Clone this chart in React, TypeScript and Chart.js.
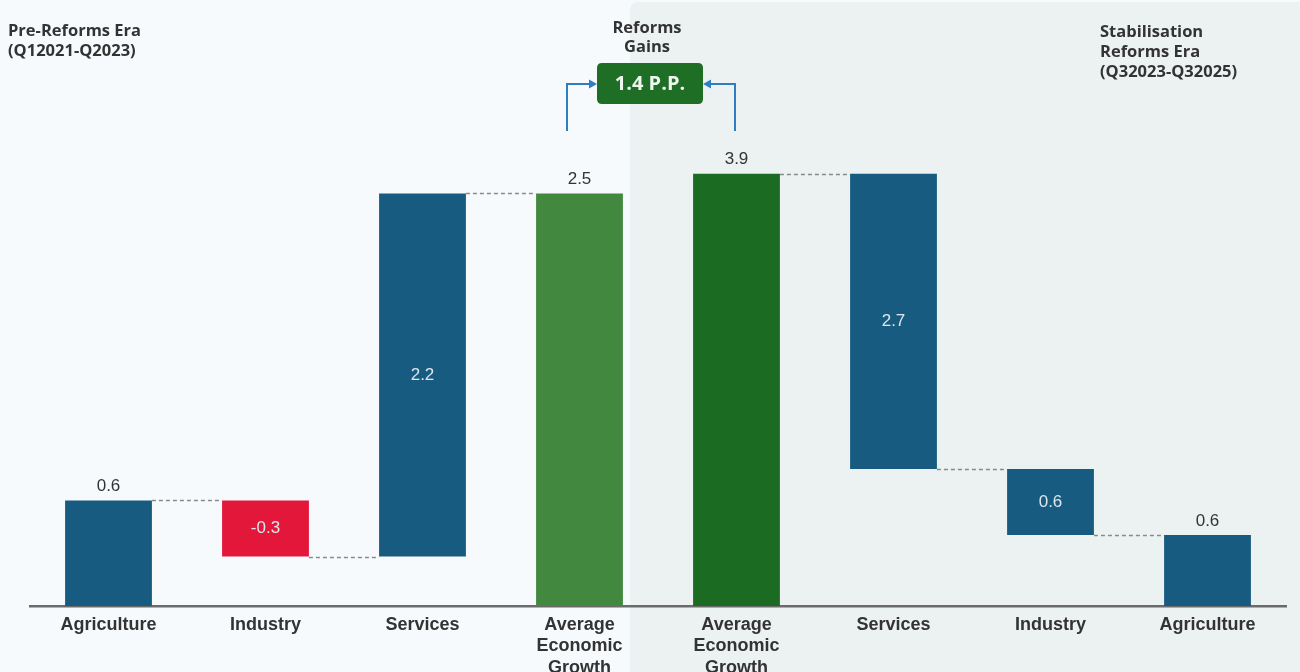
import React, { useEffect, useRef } from "react";
import { Chart, registerables } from "chart.js";

Chart.register(...registerables);

// Categories (multi-line labels)
const categories: (string | string[])[] = [
  "Agriculture",
  "Industry",
  "Services",
  ["Average", "Economic", "Growth"],
  ["Average", "Economic", "Growth"],
  "Services",
  "Industry",
  "Agriculture",
];

// Bar extents as drawn in the picture (start, end)
const barStart = [0, 0.3, 0.3, 0, 0, 0.83, 0.43, 0];
const barEnd = [0.64, 0.64, 2.5, 2.5, 2.62, 2.62, 0.83, 0.43];

// Value labels shown on the bars
const valueLabels = ["0.6", "-0.3", "2.2", "2.5", "3.9", "2.7", "0.6", "0.6"];
const labelInside = [false, true, true, false, false, true, true, false];

// Connector levels between consecutive bars (null = none)
const connectorLevels: (number | null)[] = [0.64, 0.3, 2.5, null, 2.62, 0.83, 0.43];

const barColors = [
  "#175c80",
  "#e3173a",
  "#175c80",
  "#42883f",
  "#1b6b23",
  "#175c80",
  "#175c80",
  "#175c80",
];

const leftEraLines = ["Pre-Reforms Era", "(Q12021-Q2023)"];
const rightEraLines = ["Stabilisation", "Reforms Era", "(Q32023-Q32025)"];
const gainsTitle = ["Reforms", "Gains"];
const gainsValue = "1.4 P.P.";

const W = 1300;
const H = 672;

function roundRect(ctx: CanvasRenderingContext2D, x: number, y: number, w: number, h: number, r: number) {
  ctx.beginPath();
  ctx.moveTo(x + r, y);
  ctx.lineTo(x + w - r, y);
  ctx.quadraticCurveTo(x + w, y, x + w, y + r);
  ctx.lineTo(x + w, y + h - r);
  ctx.quadraticCurveTo(x + w, y + h, x + w - r, y + h);
  ctx.lineTo(x + r, y + h);
  ctx.quadraticCurveTo(x, y + h, x, y + h - r);
  ctx.lineTo(x, y + r);
  ctx.quadraticCurveTo(x, y, x + r, y);
  ctx.closePath();
}

const backgroundPlugin = {
  id: "bgPanels",
  beforeDraw(chart: any) {
    const ctx = chart.ctx as CanvasRenderingContext2D;
    ctx.save();
    ctx.fillStyle = "#f7fafc";
    ctx.fillRect(0, 0, W, H);
    ctx.fillStyle = "#ebf2f1";
    roundRect(ctx, 630, 2, 700, 700, 8);
    ctx.fill();
    ctx.restore();
  },
};

const overlayPlugin = {
  id: "overlay",
  afterDraw(chart: any) {
    const ctx = chart.ctx as CanvasRenderingContext2D;
    const meta = chart.getDatasetMeta(0);
    const yScale = chart.scales.y;
    ctx.save();

    // connectors
    ctx.strokeStyle = "#8a8a8a";
    ctx.lineWidth = 1.5;
    ctx.setLineDash([4, 3]);
    connectorLevels.forEach((lvl, i) => {
      if (lvl === null) return;
      const a = meta.data[i];
      const b = meta.data[i + 1];
      const y = Math.round(yScale.getPixelForValue(lvl)) + 0.5;
      ctx.beginPath();
      ctx.moveTo(a.x + a.width / 2, y);
      ctx.lineTo(b.x - b.width / 2, y);
      ctx.stroke();
    });
    ctx.setLineDash([]);

    // value labels
    ctx.font = "17px 'Liberation Sans', Arial, sans-serif";
    ctx.textAlign = "center";
    ctx.textBaseline = "middle";
    valueLabels.forEach((t, i) => {
      const el = meta.data[i];
      const top = Math.min(el.y, el.base);
      const bot = Math.max(el.y, el.base);
      if (labelInside[i]) {
        ctx.fillStyle = "#dbe6ef";
        ctx.fillText(t, el.x, (top + bot) / 2);
      } else {
        ctx.fillStyle = "#333333";
        ctx.fillText(t, el.x, top - 14);
      }
    });

    // era headers
    ctx.fillStyle = "#333333";
    ctx.font = "bold 16.5px 'Open Sans', sans-serif";
    ctx.textAlign = "left";
    leftEraLines.forEach((t, i) => ctx.fillText(t, 8, 31 + i * 20));
    rightEraLines.forEach((t, i) => ctx.fillText(t, 1100, 32 + i * 20));

    // reforms gains
    ctx.textAlign = "center";
    gainsTitle.forEach((t, i) => ctx.fillText(t, 647, 28 + i * 19));
    ctx.fillStyle = "#1f6e26";
    roundRect(ctx, 597, 63, 106, 41, 5);
    ctx.fill();
    ctx.fillStyle = "#eef7ee";
    ctx.font = "bold 20px 'Open Sans', sans-serif";
    ctx.fillText(gainsValue, 650, 84);

    // arrows
    ctx.strokeStyle = "#2f7fc0";
    ctx.fillStyle = "#2f7fc0";
    ctx.lineWidth = 2;
    ctx.beginPath();
    ctx.moveTo(567, 131);
    ctx.lineTo(567, 84);
    ctx.lineTo(590, 84);
    ctx.moveTo(735, 131);
    ctx.lineTo(735, 84);
    ctx.lineTo(710, 84);
    ctx.stroke();
    ctx.beginPath();
    ctx.moveTo(597, 84);
    ctx.lineTo(589, 79.5);
    ctx.lineTo(589, 88.5);
    ctx.closePath();
    ctx.fill();
    ctx.beginPath();
    ctx.moveTo(703, 84);
    ctx.lineTo(711, 79.5);
    ctx.lineTo(711, 88.5);
    ctx.closePath();
    ctx.fill();

    ctx.restore();
  },
};

export default function App() {
  const ref = useRef<HTMLCanvasElement | null>(null);
  useEffect(() => {
    document.body.style.margin = "0";
    const canvas = ref.current!;
    const chart = new Chart(canvas, {
      type: "bar",
      data: {
        labels: categories as any,
        datasets: [
          {
            data: barStart.map((s, i) => [s, barEnd[i]]) as any,
            backgroundColor: barColors,
            borderWidth: 0,
            categoryPercentage: 1,
            barPercentage: 0.553,
          },
        ],
      },
      options: {
        responsive: false,
        animation: false,
        devicePixelRatio: 1,
        layout: { padding: { left: 30, right: 14, top: 45, bottom: 0 } },
        plugins: { legend: { display: false }, tooltip: { enabled: false }, title: { display: false } },
        scales: {
          x: {
            grid: { display: false, drawTicks: false },
            border: { display: true, color: "#6b6b6b", width: 2.5 },
            ticks: {
              color: "#333333",
              font: { family: "'Liberation Sans', Arial, sans-serif", size: 18, weight: "bold" },
              padding: 8,
              maxRotation: 0,
              autoSkip: false,
              lineHeight: 1.15,
            } as any,
            afterFit: (scale: any) => {
              scale.height = 66;
            },
          },
          y: {
            display: false,
            min: 0,
            max: 3.4,
          },
        },
      },
      plugins: [backgroundPlugin, overlayPlugin],
    });
    return () => chart.destroy();
  }, []);
  return (
    <div style={{ position: "fixed", left: 0, top: 0, width: W, height: H, overflow: "hidden" }}>
      <canvas ref={ref} width={W} height={H} style={{ width: W, height: H, display: "block" }} />
    </div>
  );
}
